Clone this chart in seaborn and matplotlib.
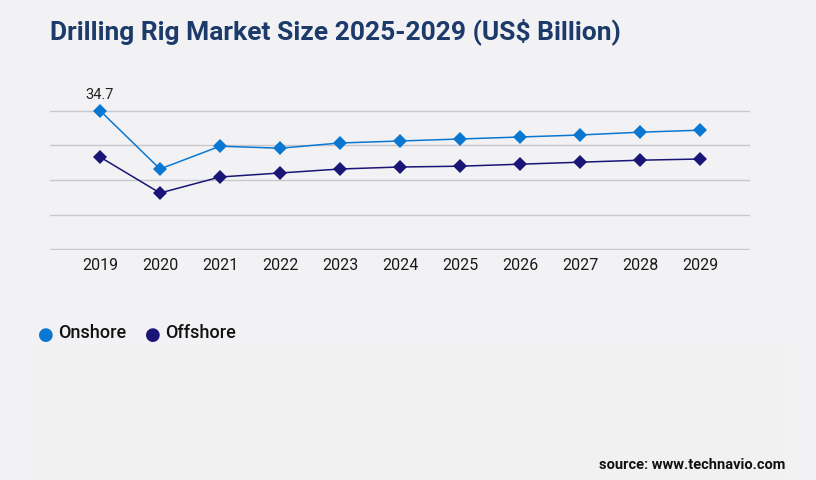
import numpy as np
import pandas as pd
import matplotlib
matplotlib.use("Agg")
import matplotlib.pyplot as plt
from matplotlib.patches import Rectangle
import seaborn as sns

years = [2019, 2020, 2021, 2022, 2023, 2024, 2025, 2026, 2027, 2028, 2029]
onshore = [34.7, 20.1, 25.8, 25.3, 26.6, 27.1, 27.6, 28.1, 28.6, 29.3, 29.8]
offshore = [23.1, 14.1, 18.1, 19.1, 20.1, 20.6, 20.8, 21.3, 21.8, 22.3, 22.6]
series_names = ["Onshore", "Offshore"]
series_colors = ["#0a78d1", "#1b1577"]

bg = "#f2f2f4"
sns.set_style("white")
plt.rcParams["font.family"] = ["Roboto", "DejaVu Sans"]

df = pd.DataFrame({"year": years * 2,
                   "value": onshore + offshore,
                   "segment": ["Onshore"] * len(years) + ["Offshore"] * len(years)})

fig = plt.figure(figsize=(8.16, 4.8), dpi=100, facecolor=bg)
fig.patches.append(Rectangle((32 / 816, 0), 756 / 816, 1 - 345 / 480,
                             transform=fig.transFigure, facecolor="#f1f1f2",
                             edgecolor="none", zorder=0))
ax = fig.add_axes([50 / 816, 1 - 250 / 480, 700 / 816, 140 / 480])
ax.set_facecolor(bg)

sns.lineplot(data=df, x="year", y="value", hue="segment", hue_order=series_names,
             palette=series_colors, marker="D", markersize=7, markeredgewidth=0,
             linewidth=1.1, legend=False, ax=ax)
for line in ax.lines:
    line.set_clip_on(False)

ax.set_xlim(years[0] - 50 / 60, years[-1] + 50 / 60)
ax.set_ylim(-0.15, 34.85)
ax.set_yticks(np.linspace(0, 34.7, 5))
ax.yaxis.grid(True, color="#c8c8cc", linewidth=1)
ax.set_yticklabels([])
ax.tick_params(axis="y", length=0)
ax.set_xticks(years)
ax.set_xticklabels([str(y) for y in years], fontsize=11.5, color="#1a1a1a")
ax.tick_params(axis="x", length=0, pad=6)
ax.set_xlabel("")
ax.set_ylabel("")
for s in ax.spines.values():
    s.set_visible(False)

ax.annotate(f"{onshore[0]}", (years[0], onshore[0]), xytext=(0, 6),
            textcoords="offset points", ha="center", va="bottom",
            fontsize=10.5, color="#222222")

fig.text(50 / 816, 1 - 32 / 480, "Drilling Rig Market Size 2025-2029 (US$ Billion)",
         fontsize=19, fontweight="bold", color="#1c3a6a", va="center", ha="left")

# legend
lx = [46, 153]
for x, name, c in zip(lx, series_names, series_colors):
    fig.text(x / 816, 1 - 335 / 480, "\u25CF", color=c, fontsize=13,
             va="center", ha="center", family="DejaVu Sans")
    fig.text((x + 12) / 816, 1 - 333 / 480, name, color="#111111", fontsize=13,
             fontweight="medium", va="center", ha="left")

fig.text(785 / 816, 1 - 465 / 480, "source: www.technavio.com", fontsize=10.5,
         fontweight="bold", color="#111111", ha="right", va="center")

fig.savefig("out.png", dpi=100, facecolor=bg)
